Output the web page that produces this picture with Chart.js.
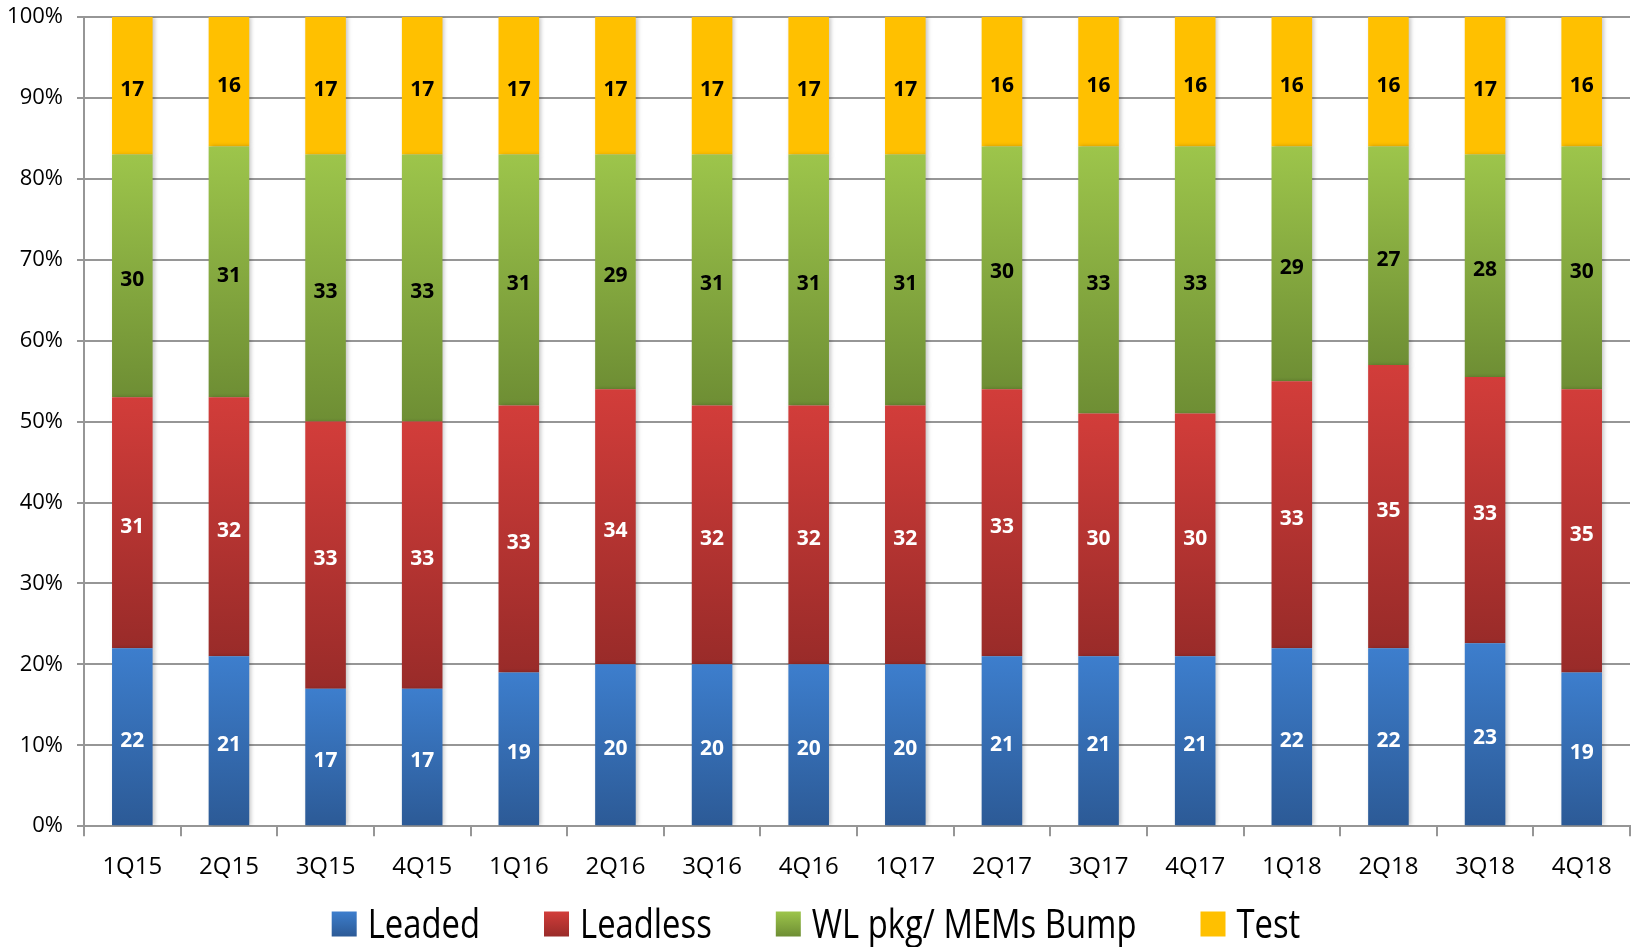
<!DOCTYPE html>
<html>
<head>
<meta charset="utf-8">
<script src="https://cdn.jsdelivr.net/npm/chart.js@4/dist/chart.umd.min.js"></script>
<style>
    html, body { margin: 0; padding: 0; background: #fff; }
    #wrap { width: 1642px; height: 947px; }
</style>
</head>
<body>
<div id="wrap"><canvas id="chart"></canvas></div>
<script>
/* ===============================
   DATA
   =============================== */
const quarters = ["1Q15", "2Q15", "3Q15", "4Q15", "1Q16", "2Q16", "3Q16", "4Q16",
                  "1Q17", "2Q17", "3Q17", "4Q17", "1Q18", "2Q18", "3Q18", "4Q18"];
const leaded   = [22, 21, 17, 17, 19, 20, 20, 20, 20, 21, 21, 21, 22, 22, 22.6, 19];
const leadless = [31, 32, 33, 33, 33, 34, 32, 32, 32, 33, 30, 30, 33, 35, 32.9, 35];
const wlBump   = [30, 31, 33, 33, 31, 29, 31, 31, 31, 30, 33, 33, 29, 27, 27.5, 30];
const testPct  = [17, 16, 17, 17, 17, 17, 17, 17, 17, 16, 16, 16, 16, 16, 17, 16];

const seriesNames = ["Leaded", "Leadless", "WL pkg/ MEMs Bump", "Test"];

// gradient stops per series: [top, bottom]
const seriesColors = [
    ["#3d7ecd", "#2c5a96"],
    ["#d23d3a", "#992b29"],
    ["#9dc54b", "#6e8e34"],
    ["#ffc000", "#ffc000"]
];
const labelColors = ["#ffffff", "#ffffff", "#000000", "#000000"];

const FONT = "'Open Sans', 'Liberation Sans', sans-serif";
const GRID = "#969696";

/* ===============================
   HELPERS
   =============================== */
function segmentGradient(context) {
    const chart = context.chart;
    const y = chart.scales.y;
    const di = context.datasetIndex;
    const i = context.dataIndex;
    const cols = seriesColors[di];
    if (!y || !chart.chartArea || context.type !== "data") return cols[0];

    let bottom = 0;
    for (let d = 0; d < di; d++) bottom += chart.data.datasets[d].data[i];
    const top = bottom + chart.data.datasets[di].data[i];

    const g = chart.ctx.createLinearGradient(0, y.getPixelForValue(top), 0, y.getPixelForValue(bottom));
    g.addColorStop(0, cols[0]);
    g.addColorStop(1, cols[1]);
    return g;
}

// soft shadow to the right of the bars
const barShadow = {
    id: "barShadow",
    beforeDatasetsDraw(chart) {
        const ctx = chart.ctx;
        ctx.save();
        ctx.shadowColor = "rgba(0,0,0,0.22)";
        ctx.shadowBlur = 4;
        ctx.shadowOffsetX = 2;
        ctx.shadowOffsetY = 0;
    },
    afterDatasetsDraw(chart) {
        chart.ctx.restore();
    }
};

// value labels in the middle of each segment
const valueLabels = {
    id: "valueLabels",
    afterDatasetsDraw(chart) {
        const ctx = chart.ctx;
        ctx.save();
        ctx.font = "bold 21px " + FONT;
        ctx.textAlign = "center";
        ctx.textBaseline = "middle";
        chart.data.datasets.forEach((ds, di) => {
            const meta = chart.getDatasetMeta(di);
            ctx.fillStyle = labelColors[di];
            meta.data.forEach((bar, i) => {
                const cy = (bar.y + bar.base) / 2 + 4;
                ctx.fillText(String(Math.round(ds.data[i])), bar.x, cy);
            });
        });
        ctx.restore();
    }
};

// condensed legend below the axis labels
const squeezedLegend = {
    id: "squeezedLegend",
    afterDraw(chart) {
        const ctx = chart.ctx;
        const box = 25, gapText = 11, gapItem = 64, squeeze = 0.8;
        const cy = 924;
        ctx.save();
        ctx.font = "41px " + FONT;
        ctx.textBaseline = "middle";
        const widths = seriesNames.map(n => ctx.measureText(n).width * squeeze);
        const total = widths.reduce((a, w) => a + box + gapText + w, 0) + gapItem * (seriesNames.length - 1);
        let x = 816 - total / 2;
        seriesNames.forEach((name, k) => {
            const g = ctx.createLinearGradient(0, cy - box / 2, 0, cy + box / 2);
            g.addColorStop(0, seriesColors[k][0]);
            g.addColorStop(1, seriesColors[k][1]);
            ctx.fillStyle = g;
            ctx.fillRect(x, cy - box / 2, box, box);
            x += box + gapText;
            ctx.save();
            ctx.translate(x, cy + 2);
            ctx.scale(squeeze, 1);
            ctx.fillStyle = "#000";
            ctx.fillText(name, 0, 0);
            ctx.restore();
            x += widths[k] + gapItem;
        });
        ctx.restore();
    }
};

/* ===============================
   CHART
   =============================== */
const datasets = [leaded, leadless, wlBump, testPct].map((vals, k) => ({
    label: seriesNames[k],
    data: vals,
    backgroundColor: segmentGradient,
    borderWidth: 0,
    categoryPercentage: 1.0,
    barPercentage: 0.42
}));

new Chart(document.getElementById("chart"), {
    type: "bar",
    data: { labels: quarters, datasets: datasets },
    options: {
        responsive: true,
        maintainAspectRatio: false,
        animation: false,
        layout: { padding: { left: 0, right: 12, top: 17, bottom: 48 } },
        plugins: {
            legend: { display: false },
            tooltip: { enabled: false }
        },
        scales: {
            x: {
                stacked: true,
                grid: {
                    offset: true,
                    drawOnChartArea: false,
                    drawTicks: true,
                    tickLength: 10,
                    color: GRID,
                    lineWidth: 2
                },
                border: { display: true, color: GRID, width: 2 },
                ticks: {
                    color: "#000",
                    font: { family: FONT, size: 24 },
                    padding: 17,
                    maxRotation: 0,
                    autoSkip: false
                }
            },
            y: {
                stacked: true,
                min: 0,
                max: 100,
                afterFit: s => { s.paddingTop = 8; s.paddingBottom = 8; s.width = 84; },
                grid: {
                    color: GRID,
                    lineWidth: 2,
                    tickLength: 7
                },
                border: { display: true, color: GRID, width: 2 },
                ticks: {
                    stepSize: 10,
                    color: "#000",
                    font: { family: FONT, size: 22 },
                    padding: 14,
                    callback: v => v + "%"
                }
            }
        }
    },
    plugins: [barShadow, valueLabels, squeezedLegend]
});
</script>
</body>
</html>
